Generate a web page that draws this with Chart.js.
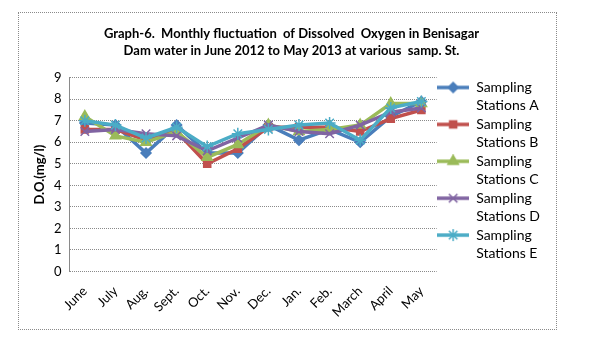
<!DOCTYPE html>
<html>
<head>
<meta charset="utf-8">
<script src="https://cdn.jsdelivr.net/npm/chart.js@4/dist/chart.umd.min.js"></script>
<style>
  body { margin: 0; background: #fff; }
  #box { position: absolute; left: 18px; top: 12px; width: 537px; height: 316px; border: 1px dotted #8a8a8a; }
</style>
</head>
<body>
<div id="box"><canvas id="c" width="537" height="316"></canvas></div>
<script>
const months = ['June', 'July', 'Aug.', 'Sept.', 'Oct.', 'Nov.', 'Dec.', 'Jan.', 'Feb.', 'March', 'April', 'May'];
const stationA = [6.9, 6.8, 5.5, 6.8, 5.5, 5.5, 6.8, 6.1, 6.6, 6.0, 7.2, 7.9];
const stationB = [6.6, 6.6, 6.1, 6.5, 5.0, 5.7, 6.7, 6.7, 6.7, 6.5, 7.1, 7.5];
const stationC = [7.2, 6.3, 6.0, 6.5, 5.3, 5.9, 6.8, 6.5, 6.6, 6.8, 7.8, 7.8];
const stationD = [6.5, 6.6, 6.4, 6.3, 5.6, 6.2, 6.8, 6.5, 6.4, 6.8, 7.4, 7.6];
const stationE = [7.0, 6.8, 6.2, 6.7, 5.8, 6.4, 6.6, 6.8, 6.9, 6.1, 7.6, 7.9];
const yTicks = [0, 1, 2, 3, 4, 5, 6, 7, 8, 9];

const FONT = 'Lato, "Open Sans", sans-serif';

const series = [
  { label: 'Sampling Stations A', data: stationA, color: '#4a7ebb', style: 'rectRot', radius: 5 },
  { label: 'Sampling Stations B', data: stationB, color: '#c0504d', style: 'rect', radius: 5 },
  { label: 'Sampling Stations C', data: stationC, color: '#9bbb59', style: 'triangle', radius: 6 },
  { label: 'Sampling Stations D', data: stationD, color: '#8064a2', style: 'crossRot', radius: 6 },
  { label: 'Sampling Stations E', data: stationE, color: '#4bacc6', style: 'star', radius: 6 },
];

// little line + marker picture for the legend, like Excel does
function legendIcon(s) {
  const cv = document.createElement('canvas');
  cv.width = 32;
  cv.height = 14;
  const g = cv.getContext('2d');
  g.strokeStyle = s.color;
  g.fillStyle = s.color;
  g.lineWidth = 3.5;
  g.beginPath();
  g.moveTo(0, 7);
  g.lineTo(32, 7);
  g.stroke();
  g.lineWidth = 1.5;
  Chart.helpers.drawPoint(g, { pointStyle: s.style, radius: s.radius, rotation: 0, borderWidth: 1.5 }, 16, 7);
  return cv;
}

new Chart(document.getElementById('c'), {
  type: 'line',
  data: {
    labels: months,
    datasets: series.map((s, i) => ({
      label: s.label,
      data: s.data,
      borderColor: s.color,
      backgroundColor: s.color,
      borderWidth: 3.5,
      pointStyle: s.style,
      pointRadius: s.radius,
      pointBorderWidth: 1.5,
      tension: 0,
      fill: false,
      order: 5 - i,
    })),
  },
  options: {
    responsive: false,
    animation: false,
    layout: { padding: { left: 14, right: 6, top: 8, bottom: 5 } },
    plugins: {
      tooltip: { enabled: false },
      title: {
        display: true,
        text: ['Graph-6.  Monthly fluctuation  of Dissolved  Oxygen in Benisagar', 'Dam water in June 2012 to May 2013 at various  samp. St.'],
        color: '#000',
        font: { family: FONT, size: 13, weight: 'bold', lineHeight: 1.3 },
        padding: { top: 4, bottom: 19 },
      },
      legend: {
        position: 'right',
        align: 'center',
        labels: {
          usePointStyle: true,
          pointStyleWidth: 32,
          boxHeight: 14,
          padding: 0.5,
          color: '#000',
          font: { family: FONT, size: 14, lineHeight: 1.3 },
          generateLabels(chart) {
            return series.map((s, i) => ({
              text: s.label.replace('Stations', '\nStations').split('\n').map(t => t.trim()),
              pointStyle: legendIcon(s),
              fillStyle: s.color,
              strokeStyle: s.color,
              lineWidth: 0,
              datasetIndex: i,
              hidden: false,
            }));
          },
        },
      },
    },
    scales: {
      x: {
        offset: true,
        grid: { display: false },
        border: { display: false },
        ticks: { color: '#000', font: { family: FONT, size: 13 }, minRotation: 45, maxRotation: 45, autoSkip: false, padding: 4 },
      },
      y: {
        min: 0,
        max: 9,
        afterBuildTicks(scale) { scale.ticks = yTicks.map(v => ({ value: v })); },
        grid: { color: '#8a8a8a', drawTicks: false },
        border: { display: true, color: '#8a8a8a', dash: [1, 1] },
        ticks: { color: '#000', font: { family: FONT, size: 13 }, padding: 8 },
        title: { display: true, text: 'D.O.(mg/l)', color: '#000', font: { family: FONT, size: 13, weight: 'bold', lineHeight: 1 }, padding: { top: 0, bottom: 0 } },
      },
    },
  },
});
</script>
</body>
</html>
